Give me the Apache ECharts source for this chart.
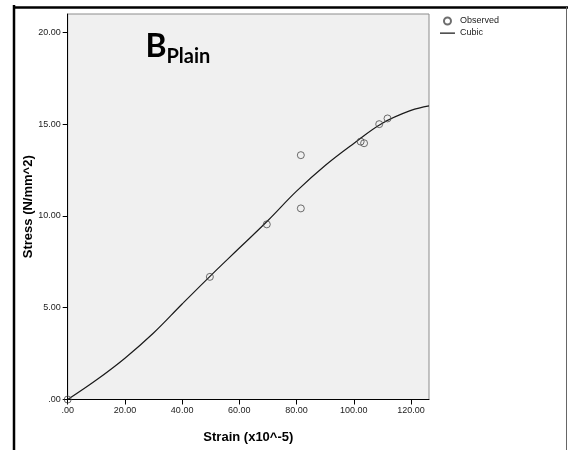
<!DOCTYPE html>
<html>
<head>
<meta charset="utf-8">
<script src="https://cdn.jsdelivr.net/npm/echarts@6/dist/echarts.min.js"></script>
<style>
  html, body { margin: 0; padding: 0; background: #fff; }
  #chart { width: 568px; height: 450px; }
</style>
</head>
<body>
<div id="chart"></div>
<script>
// Observed stress-strain measurements
const strainObserved = [0, 49.7, 69.6, 81.5, 81.5, 102.4, 103.6, 108.9, 111.8];
const stressObserved = [0, 6.68, 9.54, 10.41, 13.31, 14.05, 13.96, 15.0, 15.31];

// Cubic fit curve, sampled along the strain axis
const strainCubic = [0, 10, 20, 30, 40, 50, 60, 70, 80, 90, 100, 110, 120, 126.3];
const stressCubic = [0, 1.06, 2.25, 3.62, 5.2, 6.75, 8.25, 9.75, 11.35, 12.75, 13.95, 15.05, 15.75, 16.0];

// Tick positions
const xTicks = [0, 20, 40, 60, 80, 100, 120];
const yTicks = [0, 5, 10, 15, 20];

const fmt = v => (v === 0 ? '.00' : v.toFixed(2));
const zip = (a, b) => a.map((v, i) => [v, b[i]]);

const chart = echarts.init(document.getElementById('chart'), null, { renderer: 'canvas' });

const labelFont = { fontFamily: 'Liberation Sans, Arial, sans-serif', fontSize: 9, color: '#222' };
const nameFont = { fontFamily: 'Liberation Sans, Arial, sans-serif', fontSize: 13, fontWeight: 'bold', color: '#000' };

// legend glyph for the fitted curve: a plain horizontal stroke (no marker)
const lineIcon = 'path://M0,0L0.01,0L0.01,0.01ZM0,3H15V4.2H0ZM0,7L0.01,7L0.01,7.01Z';

chart.setOption({
  animation: false,
  backgroundColor: '#fff',
  grid: {
    left: 67.7, right: 139, top: 14, bottom: 50.5,
    show: true,
    backgroundColor: '#f0f0f0',
    borderColor: '#8c8c8c',
    borderWidth: 1
  },
  legend: {
    orient: 'vertical',
    left: 440,
    top: 16.5,
    padding: 0,
    itemWidth: 15,
    itemHeight: 7,
    itemGap: 3,
    textStyle: { fontFamily: 'Liberation Sans, Arial, sans-serif', fontSize: 9, color: '#222' },
    data: [
      { name: 'Observed', icon: 'emptyCircle', itemStyle: { color: '#4a4a4a', borderWidth: 1 } },
      { name: 'Cubic', icon: lineIcon, itemStyle: { color: '#1a1a1a' } }
    ]
  },
  xAxis: {
    type: 'value',
    min: 0,
    max: 126.3,
    name: 'Strain (x10^-5)',
    nameLocation: 'middle',
    nameGap: 31,
    nameMoveOverlap: false,
    nameTextStyle: nameFont,
    splitLine: { show: false },
    axisLine: { lineStyle: { color: '#000', width: 1 } },
    axisTick: { length: 5, lineStyle: { color: '#000' }, customValues: xTicks },
    axisLabel: Object.assign({ margin: 7, formatter: fmt, customValues: xTicks }, labelFont)
  },
  yAxis: {
    type: 'value',
    min: 0,
    max: 21,
    name: 'Stress (N/mm^2)',
    nameLocation: 'middle',
    nameGap: 33,
    nameMoveOverlap: false,
    nameTextStyle: nameFont,
    splitLine: { show: false },
    axisLine: { lineStyle: { color: '#000', width: 1 } },
    axisTick: { length: 5, lineStyle: { color: '#000' }, customValues: yTicks },
    axisLabel: Object.assign({ margin: 7, formatter: fmt, customValues: yTicks }, labelFont)
  },
  series: [
    {
      name: 'Observed',
      type: 'scatter',
      symbol: 'circle',
      symbolSize: 7,
      itemStyle: { color: 'rgba(0,0,0,0)', borderColor: '#4a4a4a', borderWidth: 1 },
      data: zip(strainObserved, stressObserved),
      z: 3
    },
    {
      name: 'Cubic',
      type: 'line',
      smooth: 0.4,
      symbol: 'none',
      lineStyle: { color: '#1a1a1a', width: 1.2 },
      itemStyle: { color: '#1a1a1a' },
      data: zip(strainCubic, stressCubic),
      z: 2
    }
  ],
  graphic: [
    // outer frame
    { type: 'line', shape: { x1: 14, y1: 5, x2: 14, y2: 450 }, style: { stroke: '#000', lineWidth: 2.5 } },
    { type: 'line', shape: { x1: 13, y1: 7.5, x2: 568, y2: 7.5 }, style: { stroke: '#000', lineWidth: 2.5 } },
    { type: 'line', shape: { x1: 566.5, y1: 7, x2: 566.5, y2: 450 }, style: { stroke: '#666', lineWidth: 1 } },
    // panel title
    { type: 'text', left: 145.5, top: 31, z: 10,
      style: { text: 'B', font: 'bold 32px Lato, "Open Sans", sans-serif', fill: '#000' } },
    { type: 'text', left: 166.5, top: 47, z: 10,
      style: { text: 'Plain', font: 'bold 20px Lato, "Open Sans", sans-serif', fill: '#000' } }
  ]
});
</script>
</body>
</html>
